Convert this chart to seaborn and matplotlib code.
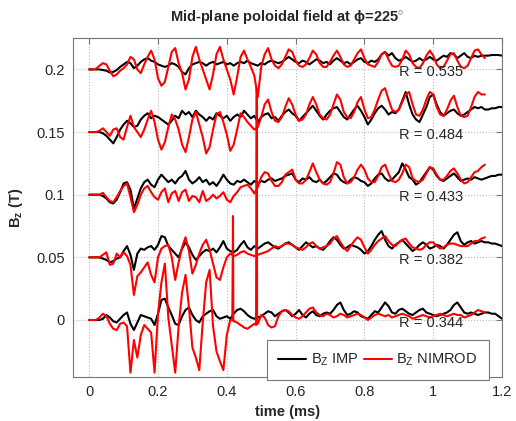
import numpy as np
import pandas as pd
import matplotlib
matplotlib.use("Agg")
import matplotlib.pyplot as plt
import seaborn as sns

# probe offsets (T) and correlation labels
offsets = [0.2, 0.15, 0.1, 0.05, 0.0]
r_labels = ["R = 0.535", "R = 0.484", "R = 0.433", "R = 0.382", "R = 0.344"]

# sample times (ms): IMP runs to 1.2, NIMROD to 1.15
t_imp = np.round(np.arange(121) * 0.01, 2)
t_nim = t_imp[:116]

# deviations from each offset, in mT
imp_a = [0, 0, 0, 0, -0.5, -1, -2.5, -2, -0.5, 2, 4, 6, 5, 1, 3, 6, 8, 9, 7, 6,
         4, 3, 2, 3, 5, 4, 2, -2, -4, 1, 4, 5, 6, 5, 3, 5, 6, 4, 5, 6,
         4, 5, 3, 5, 6, 5, 7, 5, 4, 3, 5, 4, 6, 7, 6, 5, 6, 8, 10, 8,
         6, 5, 7, 6, 4, 6, 8, 7, 5, 6, 4, 7, 9, 7, 5, 6, 4, 6, 8, 9,
         6, 5, 7, 6, 8, 12, 14, 11, 13, 9, 7, 8, 10, 8, 6, 7, 9, 7, 8, 10,
         8, 7, 9, 11, 10, 13, 12, 9, 11, 13, 10, 9, 11, 10, 11, 11, 11, 11.5, 11.5, 11.5,
         11]
nim_a = [0, 0, 0.5, 3, 5, 4, -1, -5.5, -4, -1, 1, 4, 10, 8, 0, -3, 4, 10, 15, 8,
         -7, -13, -10, 2, 14, 17, 5, -3, -16, -8, 10, 18, 8, 0, -8, -16, -4, 12, 18, 8,
         0, -8, -20, -6, 10, 15, 8, 2, -5, -22, 2, 12, 17, 8, 3, 1, 4, 10, 16, 14,
         7, 3, 2, 4, 9, 15, 12, 5, 2, 2, 6, 11, 15, 10, 4, 2, 3, 8, 13, 16,
         9, 4, 3, 2, 6, 12, 14, 8, 3, 2, 3, 8, 15, 12, 5, 2, 1, 5, 11, 15,
         11, 4, 1, 2, 7, 12, 13, 7, 2, 1, 3, 9, 15, 16, 12, 9]

imp_b = [0, 0, 0, 0, -1, -3, -6, -9, -4, 2, 6, 9, 7, 4, 5, 10, 13, 15, 11, 13,
         12, 10, 8, 6, 9, 13, 11, 17, 14, 16, 12, 17, 14, 12, 9, 12, 10, 15, 13, 11,
         13, 9, 12, 14, 12, 17, 14, 11, 13, 8, 12, 14, 15, 11, 12, 9, 13, 16, 18, 15,
         13, 9, 12, 15, 18, 21, 17, 13, 10, 14, 17, 19, 20, 16, 12, 10, 14, 18, 21, 17,
         12, 6, 10, 15, 19, 21, 18, 14, 16, 15, 18, 25, 32, 22, 14, 10, 8, 14, 20, 28,
         30, 22, 16, 13, 15, 17, 18, 15, 13, 14, 16, 18, 20, 19, 20, 18, 18, 19, 19, 20,
         20]
nim_b = [0, 0, 0, 1, 3, 0, -3, 2, 3, -4, -6, 4, 13, 4, 0, -4, 2, 10, 17, 8,
         -6, -14, -8, 4, 14, 10, 2, -10, -16, -4, 10, 16, 6, -4, -17, -12, 2, 14, 16, 8,
         -2, -15, -10, 2, 15, 12, 8, 5, 2, 4, 12, 22, 26, 16, 9, 8, 12, 20, 27, 22,
         14, 9, 10, 14, 22, 28, 22, 14, 11, 10, 14, 22, 30, 26, 16, 12, 11, 16, 24, 28,
         18, 11, 12, 18, 26, 33, 35, 26, 18, 16, 18, 24, 30, 32, 22, 14, 13, 18, 26, 32,
         30, 20, 14, 13, 18, 25, 29, 20, 13, 12, 13, 20, 28, 32, 30, 30]

imp_c = [0, 0, 0, 0, -1, -3, -6, -7, -4, 2, 9, 10, 4, -11, -3, 5, 10, 12, 8, 6,
         12, 16, 13, 10, 12, 9, 13, 15, 19, 12, 9, 11, 14, 10, 12, 8, 10, 7, 11, 16,
         12, 9, 8, 11, 10, 12, 10, 8, 11, 9, 11, 10, 12, 13, 11, 12, 13, 15, 16, 17,
         12, 10, 13, 12, 14, 11, 10, 12, 9, 11, 14, 17, 16, 12, 10, 9, 12, 14, 13, 11,
         10, 7, 9, 13, 16, 17, 13, 11, 12, 15, 18, 25, 20, 14, 12, 8, 10, 14, 18, 22,
         20, 15, 12, 11, 13, 15, 17, 14, 11, 12, 13, 12, 14, 13, 12, 13, 14, 15, 15, 16,
         16]
nim_c = [0, 0, 0, 0, 1.5, -2, -5, -6, -2, 3, 7, 9, -2, -14, -8, 0, 5, 7, 2, -2,
         -4, 2, 5, -6, 1, 3, -5, 2, 4, -5, -1, -2, -6, 3, -5, -3, 0, -3, -1, 2,
         -4, -6, -1, 2, 6, 7, 8, 5, 1, 6, 14, 18, 17, 11, 7, 7, 10, 16, 18, 20,
         12, 9, 9, 12, 18, 25, 18, 12, 9, 8, 10, 17, 26, 24, 14, 9, 10, 14, 20, 24,
         20, 13, 10, 10, 15, 22, 24, 17, 11, 10, 12, 17, 24, 22, 13, 11, 10, 12, 17, 22,
         21, 16, 12, 12, 15, 19, 21, 17, 12, 9, 10, 14, 18, 19, 22, 24]

imp_d = [0, 0, 0, 0, -1, -2, -4, -3, -1, 0, 5, 9, 2, -10, 3, 7, 6, 8, 9, 6,
         10, 17, 16, 9, 6, 3, 0, 7, 12, 8, 2, -2, 1, 4, 6, 5, 7, 4, 8, 13,
         7, 5, 4, 6, 10, 13, 8, 6, 9, 7, 9, 11, 12, 10, 8, 7, 9, 11, 12, 10,
         8, 6, 9, 12, 10, 8, 9, 7, 6, 9, 13, 16, 14, 10, 7, 8, 10, 9, 8, 6,
         3, 5, 9, 14, 18, 21, 14, 9, 7, 10, 12, 14, 11, 8, 5, 7, 10, 12, 10, 7,
         8, 10, 9, 7, 10, 14, 18, 20, 13, 10, 12, 13, 11, 12, 13, 12, 12, 11, 11, 10,
         9]
nim_d = [0, 0, 0, 0, 2, 4, -6, -5, 3, 0, 4, 1, -6, -30, -15, -12, -8, -4, -14, -20,
         0, 7, 9, 10, 0, -18, -4, 8, 16, 5, -13, -6, 3, 10, 14, 6, -5, -16, -18, -8,
         0, 3, 1, 2, 4, 5, 3, 2, 1, 2, 3, 4, 5, 7, 9, 8, 9, 11, 11, 10,
         8, 7, 6, 8, 11, 12, 9, 7, 8, 9, 11, 15, 17, 12, 8, 5, 9, 13, 16, 14,
         8, 3, 6, 10, 13, 15, 17, 13, 10, 9, 12, 14, 15, 11, 8, 7, 6, 7, 10, 12,
         12, 9, 7, 8, 10, 11, 11, 10, 9, 9, 9, 11, 13, 13, 15, 16]

imp_e = [0, 0, 0, 0, 1, 4, 2, -1, -2, 1, 4, 6, -3, -8, -2, 4, 3, 2, 1, -4,
         5, 16, 17, 10, 4, -3, -4, 3, 8, 10, 4, 0, -2, 3, 5, 7, 8, 3, 1, 2,
         3, 1, 5, 8, 9, 7, 4, 2, 1, 2, 3, 5, 7, 6, 3, 5, 7, 8, 6, 3,
         5, 8, 4, 2, 5, 7, 4, 3, 5, 6, 5, 8, 12, 14, 8, 4, 5, 7, 6, 3,
         2, 1, 4, 7, 6, 10, 14, 11, 6, 5, 8, 9, 7, 5, 4, 6, 8, 9, 6, 5,
         4, 3, 4, 5, 6, 8, 12, 14, 10, 6, 5, 6, 5, 4, 5, 6, 6, 5, 5, 3,
         1]
nim_e = [0, 0, 0, 2, 5, 3, -3, -7, -8, -3, -2, -5, -42, -16, -30, -12, -4, -7, -10, -42,
         5, 30, 45, 2, -20, -42, -5, 22, 36, 10, -22, -30, -40, -2, 30, 40, -5, -25, -33, -40,
         -12, 0, -1, -2, -4, -6, -7, -5, -3, -3, 4, 2, -4, -6, -5, 3, 7, 8, 7, 4,
         2, 1, 3, 6, 9, 10, 6, 4, 3, 5, 4, 2, 3, 5, 4, 2, 3, 4, 5, 4,
         2, 0, 2, 4, 5, 4, 3, 4, 2, 3, 4, 5, 4, 3, 1, 2, 3, 4, 3, 2,
         3, 4, 5, 4, 3, 4, 5, 4, 4, 2, 3, 4, 6, 8, 7, 6]
# two narrow NIMROD spikes on the lowest probe
nim_e_spike_t = [0.416, 0.418, 0.419, 0.485, 0.487, 0.488]
nim_e_spike_v = [0, 83, -1, -4, 185, -3]

imp_traces = [imp_a, imp_b, imp_c, imp_d, imp_e]
nim_traces = [nim_a, nim_b, nim_c, nim_d, nim_e]

sns.set_style("white")
plt.rcParams["font.family"] = ["Liberation Sans", "DejaVu Sans"]
plt.rcParams["mathtext.fontset"] = "custom"
plt.rcParams["mathtext.rm"] = "Liberation Sans"
plt.rcParams["mathtext.it"] = "Liberation Sans:italic"
plt.rcParams["mathtext.bf"] = "Liberation Sans:bold"

fig = plt.figure(figsize=(5.16, 4.21), dpi=100)
ax = fig.add_axes([0.1415, 0.1045, 0.8315, 0.805])

for i, off in enumerate(offsets):
    imp = pd.DataFrame({"time": t_imp, "bz": off + np.array(imp_traces[i]) / 1000})
    nim = pd.DataFrame({"time": t_nim, "bz": off + np.array(nim_traces[i]) / 1000})
    if i == 4:
        extra = pd.DataFrame({"time": nim_e_spike_t,
                              "bz": off + np.array(nim_e_spike_v) / 1000})
        nim = pd.concat([nim, extra]).sort_values("time")
    sns.lineplot(data=imp, x="time", y="bz", color="black", linewidth=1.5,
                 estimator=None, sort=False, ax=ax,
                 label=r"B$_{\mathrm{Z}}$ IMP" if i == 0 else None)
    sns.lineplot(data=nim, x="time", y="bz", color="red", linewidth=1.5,
                 estimator=None, sort=False, ax=ax,
                 label=r"B$_{\mathrm{Z}}$ NIMROD" if i == 0 else None)
    ax.text(0.9, off - 0.002, r_labels[i], fontsize=10.5, va="center", ha="left")

ax.set_xlim(-0.047, 1.2)
ax.set_ylim(-0.0455, 0.225)
ax.set_xticks([0, 0.2, 0.4, 0.6, 0.8, 1.0, 1.2])
ax.set_xticklabels(["0", "0.2", "0.4", "0.6", "0.8", "1", "1.2"])
ax.set_yticks([0, 0.05, 0.1, 0.15, 0.2])
ax.set_yticklabels(["0", "0.05", "0.1", "0.15", "0.2"])
ax.tick_params(direction="in", length=4, labelsize=10.5, top=True, right=True,
               color="#777777", pad=6)
ax.grid(True, linestyle=":", color="#bbbbbb", linewidth=0.8)
for s in ax.spines.values():
    s.set_color("#777777")
    s.set_linewidth(0.8)

ax.set_title("Mid-plane poloidal field at ϕ=225$^{\\circ}$",
             fontsize=10.5, fontweight="bold", pad=12)
ax.set_xlabel("time (ms)", fontsize=10.5, fontweight="bold")
ax.set_ylabel(r"B$_{\mathbf{z}}$ (T)", fontsize=10.5, fontweight="bold", labelpad=8)

leg = ax.legend(loc="lower right", bbox_to_anchor=(0.987, -0.03), ncol=2,
                fontsize=10.5, frameon=True, fancybox=False, framealpha=1,
                edgecolor="#777777", handlelength=1.9, handletextpad=0.3,
                columnspacing=0.4, borderpad=0.8)
leg.get_frame().set_linewidth(0.8)

fig.savefig("out.png", dpi=100)
